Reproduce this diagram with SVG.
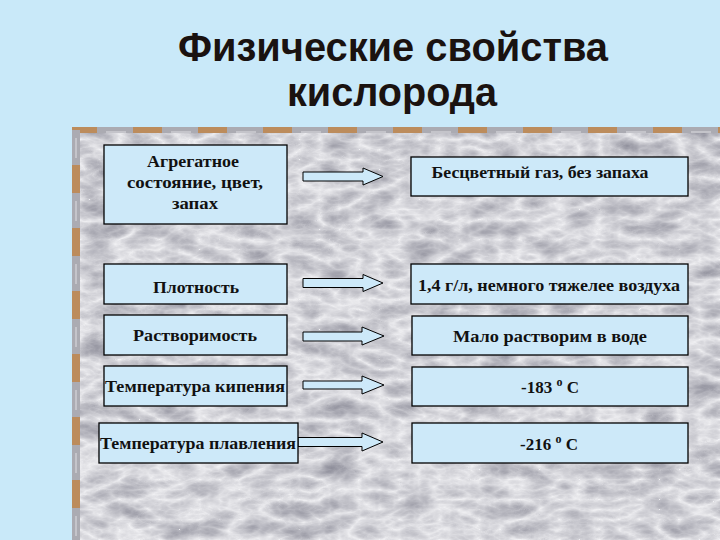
<svg xmlns="http://www.w3.org/2000/svg" width="720" height="540" viewBox="0 0 720 540">
<defs>
<style>
.box{fill:#CDE9F9;stroke:#000;stroke-width:1.3}
.arr{fill:#CDE9F9;stroke:#000;stroke-width:1}
.t{font-family:"Liberation Serif","Times New Roman",serif;font-weight:bold;font-size:17px;fill:#111;text-anchor:middle}
.title{font-family:"Liberation Sans",Arial,sans-serif;font-weight:bold;font-size:40px;fill:#1a1210;text-anchor:middle}
</style>
<filter id="marble" x="0" y="0" width="100%" height="100%" color-interpolation-filters="sRGB">
<feTurbulence type="turbulence" baseFrequency="0.025 0.05" numOctaves="4" seed="11" result="t"/>
<feColorMatrix in="t" type="matrix" values="-0.42 0 0 0 0.95  -0.42 0 0 0 0.95  -0.38 0 0 0 0.96  0 0 0 0 1"/>
</filter>
<pattern id="stripeH" x="68" y="0" width="65" height="8" patternUnits="userSpaceOnUse">
<rect width="65" height="8" fill="#ABABB2"/>
<rect x="0" width="29" height="8" fill="#BC8C5C"/>
<rect x="38" y="3" width="20" height="2" fill="#C4C4CA"/>
</pattern>
<pattern id="stripeV" x="0" y="102" width="8" height="63" patternUnits="userSpaceOnUse">
<rect width="8" height="63" fill="#ABABB2"/>
<rect y="0" width="8" height="28" fill="#BC8C5C"/>
<rect x="3" y="36" width="2" height="20" fill="#C4C4CA"/>
</pattern>
</defs>
<rect width="720" height="540" fill="#C9E9F9"/>
<g id="title">
<text class="title" x="393" y="61" textLength="430" lengthAdjust="spacingAndGlyphs">Физические свойства</text>
<text class="title" x="392" y="106" textLength="210" lengthAdjust="spacingAndGlyphs">кислорода</text>
</g>
<g id="panel">
<rect x="80" y="133" width="640" height="407" fill="#EEEEF0" filter="url(#marble)"/>
<rect x="72" y="127" width="648" height="6" fill="url(#stripeH)"/>
<rect x="72" y="127" width="8" height="413" fill="url(#stripeV)"/>
</g>
<g id="connectors">
<path class="arr" d="M303,172 H363 V168 L383,176.5 L363,185 V181 H303 Z"/>
<path class="arr" d="M303,278.5 H363 V274.5 L383,283 L363,291.5 V287.5 H303 Z"/>
<path class="arr" d="M303,332 H362 V327 L384,336 L362,345 V341 H303 Z"/>
<path class="arr" d="M303,381 H362 V376 L384,385 L362,394 V389 H303 Z"/>
<path class="arr" d="M298,437.5 H362 V433 L383,442 L362,451 V446.5 H298 Z"/>
</g>
<g id="n-agg">
<rect class="box" x="104" y="145" width="183" height="79"/>
<text class="t" x="193" y="167" textLength="92" lengthAdjust="spacingAndGlyphs">Агрегатное</text>
<text class="t" x="195" y="188" textLength="136" lengthAdjust="spacingAndGlyphs">состояние, цвет,</text>
<text class="t" x="195" y="209" textLength="46" lengthAdjust="spacingAndGlyphs">запах</text>
</g>
<g id="n-dens">
<rect class="box" x="104" y="264" width="183" height="40"/>
<text class="t" x="196" y="293" textLength="86" lengthAdjust="spacingAndGlyphs">Плотность</text>
</g>
<g id="n-sol">
<rect class="box" x="104" y="315" width="183" height="40"/>
<text class="t" x="195" y="341" textLength="124" lengthAdjust="spacingAndGlyphs">Растворимость</text>
</g>
<g id="n-boil">
<rect class="box" x="104" y="366" width="183" height="40"/>
<text class="t" x="195" y="392" textLength="180" lengthAdjust="spacingAndGlyphs">Температура кипения</text>
</g>
<g id="n-melt">
<rect class="box" x="99" y="423" width="199" height="40"/>
<text class="t" x="198" y="449" textLength="196" lengthAdjust="spacingAndGlyphs">Температура плавления</text>
</g>
<g id="r-agg">
<rect class="box" x="411" y="157" width="277" height="39"/>
<text class="t" x="540" y="178" textLength="217" lengthAdjust="spacingAndGlyphs">Бесцветный газ, без запаха</text>
</g>
<g id="r-dens">
<rect class="box" x="411" y="264" width="277" height="40"/>
<text class="t" x="549" y="291" textLength="262" lengthAdjust="spacingAndGlyphs">1,4 г/л, немного тяжелее воздуха</text>
</g>
<g id="r-sol">
<rect class="box" x="412" y="316" width="276" height="39"/>
<text class="t" x="550" y="342" textLength="194" lengthAdjust="spacingAndGlyphs">Мало растворим в воде</text>
</g>
<g id="r-boil">
<rect class="box" x="412" y="367" width="276" height="39"/>
<text class="t" x="550" y="393" font-size="18">-183 <tspan font-size="12" dy="-7">o</tspan><tspan dy="7"> C</tspan></text>
</g>
<g id="r-melt">
<rect class="box" x="412" y="423" width="276" height="40"/>
<text class="t" x="549" y="450" font-size="19">-216 <tspan font-size="12" dy="-7">o</tspan><tspan dy="7"> C</tspan></text>
</g>
</svg>
